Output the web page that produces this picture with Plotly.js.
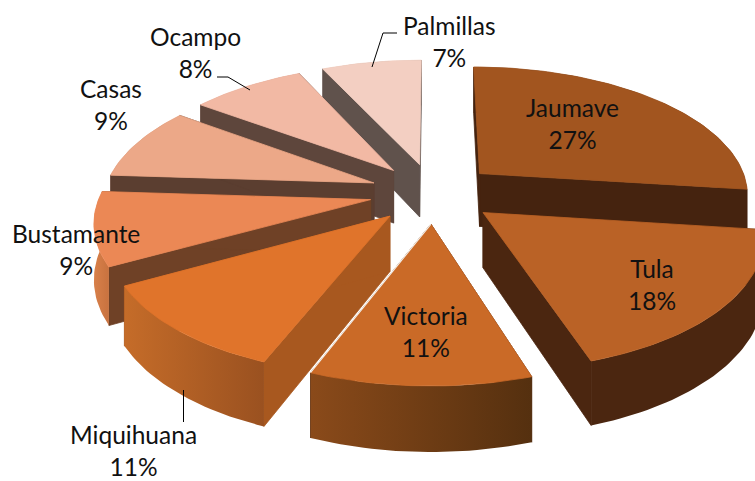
<!DOCTYPE html>
<html><head><meta charset="utf-8">
<script src="https://cdn.plot.ly/plotly-3.0.1.min.js"></script>
<style>html,body{margin:0;padding:0;background:#fff}#c{width:755px;height:481px}</style>
</head><body><div id="c"></div>
<script>
// data
const categories = ['Jaumave','Tula','Victoria','Miquihuana','Bustamante','Casas','Ocampo','Palmillas'];
const shares = [27,18,11,11,9,9,8,7];
// styles
const topColors  = ['#a2551f','#ba6226','#ca6a27','#e0742b','#eb8855','#eca888','#f2b9a4','#f3cfc2'];
const cutColors  = ['#45230f','#4b2610','#4b2610','#a8581f','#6f4126','#5b3e30','#5e463c','#60524c'];
const rimLeft    = ['#45230f','#4b2610','#8a4a1a','#c56c29','#d8804a','#c08a70','#b0907c','#c0a59a'];
const rimRight   = ['#45230f','#4b2610','#55300f','#9a5120','#c8723f','#a07860','#a08070','#a8908a'];
const labelX = [572,652,426,133,76,111,195,449];
const labelY = [123,284,331,450,249,104,52,41];
// projection parameters
const cx=433, cy=193, R=270, Q=127.7, P=0.148, EXPLODE=0.235, DEPTH=54;
const project=(x,y,z)=>{const s=1/(1-P*y);return [cx+R*x*s, cy+Q*y*s+z*DEPTH*s];};

const traces=[];
const poly=(pts,fill,grad)=>{
  const t={type:'scatter',mode:'lines',x:pts.map(p=>p[0]).concat(pts[0][0]),y:pts.map(p=>p[1]).concat(pts[0][1]),
    fill:'toself',line:{width:grad?0:0.8,color:fill},fillcolor:fill,hoverinfo:'skip',showlegend:false};
  if(grad) t.fillgradient={type:'horizontal',colorscale:[[0,grad[0]],[1,grad[1]]]};
  return t;
};
const total=shares.reduce((a,b)=>a+b,0);
let acc=0;
const slices=shares.map((v,i)=>{
  const a0=acc/total*2*Math.PI; acc+=v; const a1=acc/total*2*Math.PI;
  const mid=(a0+a1)/2;
  return {i,a0,a1,ax:EXPLODE*Math.sin(mid),ay:-EXPLODE*Math.cos(mid)};
});
slices.slice().sort((p,q)=>p.ay-q.ay).forEach(sl=>{
  const {i,a0,a1,ax,ay}=sl;
  const n=Math.max(12,Math.round((a1-a0)*40));
  const rim=[];
  for(let k=0;k<=n;k++){const a=a0+(a1-a0)*k/n;rim.push([ax+Math.sin(a),ay-Math.cos(a)]);}
  const rimTop=rim.map(p=>project(p[0],p[1],0));
  const rimBot=rim.map(p=>project(p[0],p[1],1));
  const face=(q)=>[project(ax,ay,0),project(q[0],q[1],0),project(q[0],q[1],1),project(ax,ay,1)];
  const wall=poly(rimTop.concat(rimBot.slice().reverse()),rimLeft[i],[rimLeft[i],rimRight[i]]);
  const faces=[poly(face(rim[0]),cutColors[i]),poly(face(rim[n]),cutColors[i])];
  if(ay<0) traces.push(wall,...faces); else traces.push(...faces,wall);
  traces.push(poly([project(ax,ay,0)].concat(rimTop),topColors[i]));
  if(categories[i]==='Victoria'){
    const e=[project(ax,ay,0),rimTop[n]];
    traces.push({type:'scatter',mode:'lines',x:e.map(p=>p[0]),y:e.map(p=>p[1]),line:{color:'#f4efe9',width:1.2},hoverinfo:'skip',showlegend:false});
  }
});
// leader lines
const leaders=[[[372,67],[383,33],[397,33]],[[250,90],[228,77],[217,77]],[[183.5,390],[183.5,422]]];
const shapes=leaders.map(l=>({type:'path',xref:'x',yref:'y',path:'M'+l.map(p=>p.join(',')).join('L'),line:{color:'#000',width:1}}));
const annotations=categories.map((c,i)=>({xref:'x',yref:'y',x:labelX[i],y:labelY[i],text:c+'<br>'+shares[i]+'%',showarrow:false,
  align:'center',xanchor:'center',yanchor:'middle',font:{family:'Lato, "Open Sans", sans-serif',size:24.5,color:'#111'}}));
Plotly.newPlot('c',traces,{
  width:755,height:481,margin:{l:0,r:0,t:0,b:0},paper_bgcolor:'#fff',plot_bgcolor:'#fff',showlegend:false,hovermode:false,
  xaxis:{range:[0,755],visible:false,fixedrange:true},yaxis:{range:[481,0],visible:false,fixedrange:true},
  shapes,annotations
},{displayModeBar:false,staticPlot:true});
</script></body></html>
